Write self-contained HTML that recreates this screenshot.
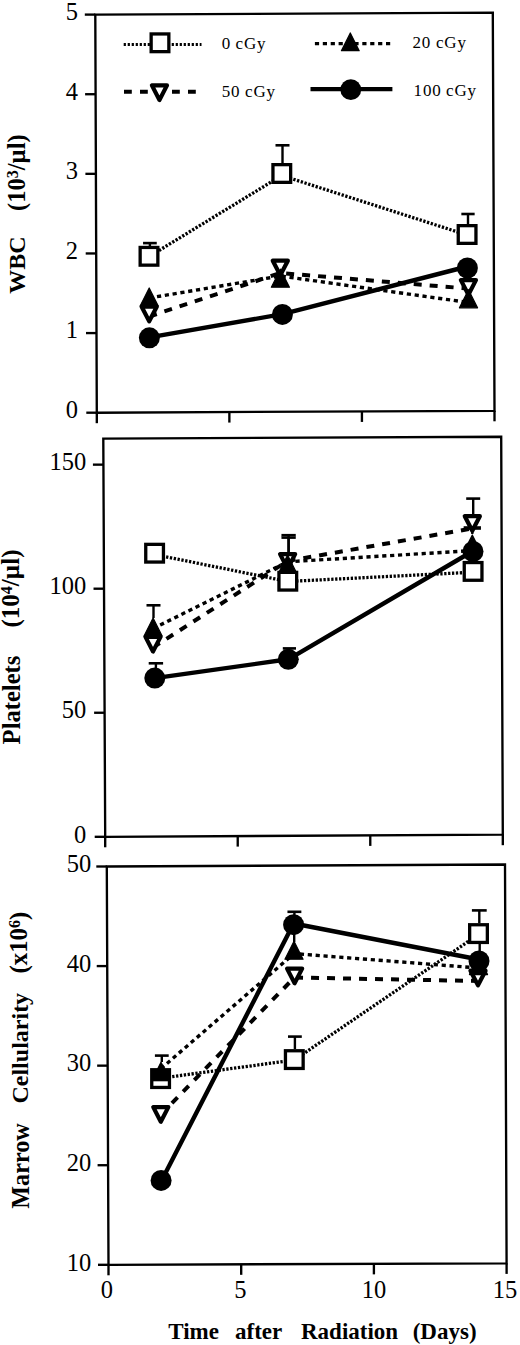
<!DOCTYPE html>
<html><head><meta charset="utf-8"><title>Blood counts after radiation</title>
<style>
html,body{margin:0;padding:0;background:#fff;}
body{width:520px;height:1345px;overflow:hidden;}
svg{display:block;}
text{font-family:"Liberation Serif",serif;fill:#000;}
</style></head>
<body>
<svg width="520" height="1345" viewBox="0 0 520 1345">
<rect width="520" height="1345" fill="#fff"/>
<path d="M95.30,14.60 L492.80,12.70 L494.50,410.80 L96.80,412.70 Z" fill="none" stroke="#000" stroke-width="2.35" stroke-linejoin="miter"/>
<line x1="86.30" y1="412.70" x2="96.80" y2="412.70" stroke="#000" stroke-width="2.35" />
<line x1="86.00" y1="333.08" x2="96.50" y2="333.08" stroke="#000" stroke-width="2.35" />
<line x1="85.70" y1="253.46" x2="96.20" y2="253.46" stroke="#000" stroke-width="2.35" />
<line x1="85.40" y1="173.84" x2="95.90" y2="173.84" stroke="#000" stroke-width="2.35" />
<line x1="85.10" y1="94.22" x2="95.60" y2="94.22" stroke="#000" stroke-width="2.35" />
<line x1="84.80" y1="14.60" x2="95.30" y2="14.60" stroke="#000" stroke-width="2.35" />
<line x1="96.80" y1="412.70" x2="96.80" y2="423.20" stroke="#000" stroke-width="2.35" />
<line x1="229.37" y1="412.07" x2="229.37" y2="422.57" stroke="#000" stroke-width="2.35" />
<line x1="361.93" y1="411.43" x2="361.93" y2="421.93" stroke="#000" stroke-width="2.35" />
<line x1="494.50" y1="410.80" x2="494.50" y2="421.30" stroke="#000" stroke-width="2.35" />
<text x="78.00" y="417.90" font-size="24.5" text-anchor="end" font-weight="normal" >0</text>
<text x="78.00" y="338.30" font-size="24.5" text-anchor="end" font-weight="normal" >1</text>
<text x="78.00" y="258.70" font-size="24.5" text-anchor="end" font-weight="normal" >2</text>
<text x="78.00" y="179.10" font-size="24.5" text-anchor="end" font-weight="normal" >3</text>
<text x="78.00" y="99.50" font-size="24.5" text-anchor="end" font-weight="normal" >4</text>
<text x="78.00" y="19.90" font-size="24.5" text-anchor="end" font-weight="normal" >5</text>
<text transform="translate(25.20,265.20) rotate(-90)" x="0" y="0" font-size="24" text-anchor="middle" font-weight="bold" xml:space="preserve">WBC</text>
<text transform="translate(24.60,172.60) rotate(-90)" x="0" y="0" font-size="24.5" text-anchor="middle" font-weight="bold" xml:space="preserve">(10<tspan font-size="16" dy="-7">3</tspan><tspan dy="7">/µl)</tspan></text>
<polyline points="123.70,44.50 201.50,44.50" fill="none" stroke="#000" stroke-width="3.2" stroke-dasharray="2.2 1.8" stroke-dashoffset="0" stroke-linecap="butt" stroke-linejoin="round"/>
<rect x="151.15" y="33.95" width="17.70" height="17.70" fill="#fff" stroke="#000" stroke-width="3.3"/>
<polyline points="314.30,43.60 390.50,43.60" fill="none" stroke="#000" stroke-width="3.4" stroke-dasharray="4.2 3.7" stroke-dashoffset="-0.6" stroke-linecap="butt" stroke-linejoin="round"/>
<polygon points="350.30,32.90 341.40,50.70 359.20,50.70" fill="#000" stroke="#000" stroke-width="1.2" stroke-linejoin="round"/>
<polyline points="124.00,91.70 196.00,91.70" fill="none" stroke="#000" stroke-width="4" stroke-dasharray="7.8 8.2" stroke-dashoffset="0" stroke-linecap="butt" stroke-linejoin="round"/>
<polygon points="151.90,85.40 167.00,85.40 159.45,100.00" fill="#fff" stroke="#000" stroke-width="4.2" stroke-linejoin="round"/>
<polyline points="310.50,89.20 392.40,89.20" fill="none" stroke="#000" stroke-width="4.3" stroke-linecap="butt" stroke-linejoin="round"/>
<circle cx="350.80" cy="89.70" r="10.4" fill="#000"/>
<text x="221.70" y="49.00" font-size="17" text-anchor="start" font-weight="normal" letter-spacing="0.8">0</text>
<text x="221.70" y="96.50" font-size="17" text-anchor="start" font-weight="normal" letter-spacing="0.8">50</text>
<text x="412.50" y="48.00" font-size="17" text-anchor="start" font-weight="normal" letter-spacing="0.8">20</text>
<text x="413.60" y="96.00" font-size="17" text-anchor="start" font-weight="normal" letter-spacing="0.8">100</text>
<text x="235.50" y="49.00" font-size="17" text-anchor="start" font-weight="normal" letter-spacing="0.9">cGy</text>
<text x="245.00" y="96.50" font-size="17" text-anchor="start" font-weight="normal" letter-spacing="0.9">cGy</text>
<text x="435.90" y="48.00" font-size="17" text-anchor="start" font-weight="normal" letter-spacing="0.9">cGy</text>
<text x="446.00" y="96.00" font-size="17" text-anchor="start" font-weight="normal" letter-spacing="0.9">cGy</text>
<polyline points="149.00,256.60 281.80,175.50 467.10,235.00" fill="none" stroke="#000" stroke-width="3.3" stroke-dasharray="2.3 1.6" stroke-dashoffset="0" stroke-linecap="butt" stroke-linejoin="round"/>
<line x1="149.90" y1="246.00" x2="149.90" y2="243.10" stroke="#000" stroke-width="2.4" />
<line x1="143.05" y1="243.10" x2="156.75" y2="243.10" stroke="#000" stroke-width="2.6" />
<line x1="282.50" y1="163.00" x2="282.50" y2="145.30" stroke="#000" stroke-width="2.4" />
<line x1="275.50" y1="145.30" x2="289.50" y2="145.30" stroke="#000" stroke-width="2.6" />
<line x1="468.00" y1="224.00" x2="468.00" y2="214.00" stroke="#000" stroke-width="2.4" />
<line x1="461.35" y1="214.00" x2="474.65" y2="214.00" stroke="#000" stroke-width="2.6" />
<rect x="140.15" y="247.45" width="17.70" height="17.70" fill="#fff" stroke="#000" stroke-width="3.3"/>
<rect x="272.95" y="164.65" width="17.70" height="17.70" fill="#fff" stroke="#000" stroke-width="3.3"/>
<rect x="458.25" y="225.65" width="17.70" height="17.70" fill="#fff" stroke="#000" stroke-width="3.3"/>
<polyline points="149.20,316.50 280.30,273.00 468.40,288.60" fill="none" stroke="#000" stroke-width="4.0" stroke-dasharray="8 8" stroke-dashoffset="0" stroke-linecap="butt" stroke-linejoin="round"/>
<polygon points="141.65,306.70 156.75,306.70 149.20,321.30" fill="#fff" stroke="#000" stroke-width="4.2" stroke-linejoin="round"/>
<polygon points="272.75,260.70 287.85,260.70 280.30,275.30" fill="#fff" stroke="#000" stroke-width="4.2" stroke-linejoin="round"/>
<polygon points="460.85,280.10 475.95,280.10 468.40,294.70" fill="#fff" stroke="#000" stroke-width="4.2" stroke-linejoin="round"/>
<polyline points="149.20,298.00 280.40,276.00 468.50,302.50" fill="none" stroke="#000" stroke-width="3.4" stroke-dasharray="4.2 3.7" stroke-dashoffset="0" stroke-linecap="butt" stroke-linejoin="round"/>
<polygon points="149.20,287.95 140.15,306.05 158.25,306.05" fill="#000" stroke="#000" stroke-width="1.2" stroke-linejoin="round"/>
<polygon points="280.40,269.15 271.35,287.25 289.45,287.25" fill="#000" stroke="#000" stroke-width="1.2" stroke-linejoin="round"/>
<polygon points="468.50,289.75 459.45,307.85 477.55,307.85" fill="#000" stroke="#000" stroke-width="1.2" stroke-linejoin="round"/>
<polyline points="149.40,337.30 282.40,314.20 467.40,266.50" fill="none" stroke="#000" stroke-width="4.4" stroke-linecap="butt" stroke-linejoin="round"/>
<circle cx="149.40" cy="337.80" r="10.5" fill="#000"/>
<circle cx="282.40" cy="314.40" r="10.5" fill="#000"/>
<circle cx="467.40" cy="268.00" r="10.5" fill="#000"/>
<path d="M103.30,438.60 L501.20,436.80 L502.80,834.70 L105.20,836.80 Z" fill="none" stroke="#000" stroke-width="2.35" stroke-linejoin="miter"/>
<line x1="94.70" y1="836.80" x2="105.20" y2="836.80" stroke="#000" stroke-width="2.35" />
<line x1="94.11" y1="712.75" x2="104.61" y2="712.75" stroke="#000" stroke-width="2.35" />
<line x1="93.52" y1="588.70" x2="104.02" y2="588.70" stroke="#000" stroke-width="2.35" />
<line x1="92.92" y1="464.65" x2="103.42" y2="464.65" stroke="#000" stroke-width="2.35" />
<line x1="105.20" y1="836.80" x2="105.20" y2="847.30" stroke="#000" stroke-width="2.35" />
<line x1="237.73" y1="836.10" x2="237.73" y2="846.60" stroke="#000" stroke-width="2.35" />
<line x1="370.27" y1="835.40" x2="370.27" y2="845.90" stroke="#000" stroke-width="2.35" />
<line x1="502.80" y1="834.70" x2="502.80" y2="845.20" stroke="#000" stroke-width="2.35" />
<text x="86.30" y="842.50" font-size="24.5" text-anchor="end" font-weight="normal" >0</text>
<text x="86.30" y="718.30" font-size="24.5" text-anchor="end" font-weight="normal" >50</text>
<text x="86.30" y="594.10" font-size="24.5" text-anchor="end" font-weight="normal" >100</text>
<text x="86.30" y="469.90" font-size="24.5" text-anchor="end" font-weight="normal" >150</text>
<text transform="translate(19.60,700.00) rotate(-90)" x="0" y="0" font-size="24.6" text-anchor="middle" font-weight="bold" xml:space="preserve">Platelets</text>
<text transform="translate(18.80,588.50) rotate(-90)" x="0" y="0" font-size="25" text-anchor="middle" font-weight="bold" xml:space="preserve">(10<tspan font-size="16" dy="-7">4</tspan><tspan dy="7">/µl)</tspan></text>
<polyline points="154.60,554.50 287.80,581.50 473.10,572.20" fill="none" stroke="#000" stroke-width="3.3" stroke-dasharray="2.3 1.6" stroke-dashoffset="0" stroke-linecap="butt" stroke-linejoin="round"/>
<rect x="145.75" y="544.35" width="17.70" height="17.70" fill="#fff" stroke="#000" stroke-width="3.3"/>
<rect x="278.95" y="572.35" width="17.70" height="17.70" fill="#fff" stroke="#000" stroke-width="3.3"/>
<rect x="464.25" y="562.55" width="17.70" height="17.70" fill="#fff" stroke="#000" stroke-width="3.3"/>
<polyline points="153.00,647.50 287.60,561.00 472.30,528.40" fill="none" stroke="#000" stroke-width="4.0" stroke-dasharray="8 8" stroke-dashoffset="0" stroke-linecap="butt" stroke-linejoin="round"/>
<line x1="473.20" y1="514.00" x2="473.20" y2="498.60" stroke="#000" stroke-width="2.4" />
<line x1="466.20" y1="498.60" x2="480.20" y2="498.60" stroke="#000" stroke-width="2.6" />
<polygon points="145.45,636.90 160.55,636.90 153.00,651.50" fill="#fff" stroke="#000" stroke-width="4.2" stroke-linejoin="round"/>
<polygon points="280.05,554.10 295.15,554.10 287.60,568.70" fill="#fff" stroke="#000" stroke-width="4.2" stroke-linejoin="round"/>
<polygon points="464.75,516.20 479.85,516.20 472.30,530.80" fill="#fff" stroke="#000" stroke-width="4.2" stroke-linejoin="round"/>
<polyline points="153.10,628.50 287.60,561.80 472.50,550.60" fill="none" stroke="#000" stroke-width="3.4" stroke-dasharray="4.2 3.7" stroke-dashoffset="0" stroke-linecap="butt" stroke-linejoin="round"/>
<line x1="153.50" y1="618.00" x2="153.50" y2="605.30" stroke="#000" stroke-width="2.4" />
<line x1="146.50" y1="605.30" x2="160.50" y2="605.30" stroke="#000" stroke-width="2.6" />
<line x1="288.60" y1="555.00" x2="288.60" y2="535.20" stroke="#000" stroke-width="2.4" />
<line x1="281.45" y1="535.20" x2="295.75" y2="535.20" stroke="#000" stroke-width="2.6" />
<line x1="288.60" y1="555.00" x2="288.60" y2="537.60" stroke="#000" stroke-width="2.4" />
<line x1="281.45" y1="537.60" x2="295.75" y2="537.60" stroke="#000" stroke-width="2.6" />
<line x1="472.30" y1="534.00" x2="472.30" y2="528.00" stroke="#000" stroke-width="2.4" />
<line x1="463.65" y1="528.00" x2="480.95" y2="528.00" stroke="#000" stroke-width="3.6" />
<polygon points="153.10,617.95 144.05,636.05 162.15,636.05" fill="#000" stroke="#000" stroke-width="1.2" stroke-linejoin="round"/>
<polygon points="287.60,554.95 278.55,573.05 296.65,573.05" fill="#000" stroke="#000" stroke-width="1.2" stroke-linejoin="round"/>
<polygon points="472.30,534.95 463.25,553.05 481.35,553.05" fill="#000" stroke="#000" stroke-width="1.2" stroke-linejoin="round"/>
<polyline points="154.80,678.10 288.30,659.30 473.00,551.00" fill="none" stroke="#000" stroke-width="4.4" stroke-linecap="butt" stroke-linejoin="round"/>
<line x1="155.90" y1="668.00" x2="155.90" y2="663.30" stroke="#000" stroke-width="2.4" />
<line x1="148.70" y1="663.30" x2="163.10" y2="663.30" stroke="#000" stroke-width="2.6" />
<line x1="289.40" y1="649.00" x2="289.40" y2="648.40" stroke="#000" stroke-width="2.4" />
<line x1="282.80" y1="648.40" x2="296.00" y2="648.40" stroke="#000" stroke-width="2.6" />
<circle cx="154.80" cy="678.10" r="10.5" fill="#000"/>
<circle cx="288.30" cy="659.30" r="10.5" fill="#000"/>
<circle cx="473.00" cy="551.50" r="10.5" fill="#000"/>
<path d="M106.80,866.50 L505.00,864.50 L506.60,1263.40 L108.50,1264.80 Z" fill="none" stroke="#000" stroke-width="2.35" stroke-linejoin="miter"/>
<line x1="98.00" y1="1264.80" x2="108.50" y2="1264.80" stroke="#000" stroke-width="2.35" />
<line x1="97.58" y1="1165.22" x2="108.08" y2="1165.22" stroke="#000" stroke-width="2.35" />
<line x1="97.15" y1="1065.65" x2="107.65" y2="1065.65" stroke="#000" stroke-width="2.35" />
<line x1="96.72" y1="966.08" x2="107.22" y2="966.08" stroke="#000" stroke-width="2.35" />
<line x1="96.30" y1="866.50" x2="106.80" y2="866.50" stroke="#000" stroke-width="2.35" />
<line x1="108.50" y1="1264.80" x2="108.50" y2="1275.30" stroke="#000" stroke-width="2.35" />
<line x1="241.20" y1="1264.33" x2="241.20" y2="1274.83" stroke="#000" stroke-width="2.35" />
<line x1="373.90" y1="1263.87" x2="373.90" y2="1274.37" stroke="#000" stroke-width="2.35" />
<line x1="506.60" y1="1263.40" x2="506.60" y2="1273.90" stroke="#000" stroke-width="2.35" />
<text x="91.30" y="1270.60" font-size="24.5" text-anchor="end" font-weight="normal" >10</text>
<text x="91.30" y="1171.00" font-size="24.5" text-anchor="end" font-weight="normal" >20</text>
<text x="91.30" y="1071.40" font-size="24.5" text-anchor="end" font-weight="normal" >30</text>
<text x="91.30" y="971.80" font-size="24.5" text-anchor="end" font-weight="normal" >40</text>
<text x="91.30" y="872.20" font-size="24.5" text-anchor="end" font-weight="normal" >50</text>
<text x="106.80" y="1297.80" font-size="24.5" text-anchor="middle" font-weight="normal" >0</text>
<text x="240.30" y="1297.80" font-size="24.5" text-anchor="middle" font-weight="normal" >5</text>
<text x="374.00" y="1297.80" font-size="24.5" text-anchor="middle" font-weight="normal" >10</text>
<text x="505.00" y="1297.80" font-size="24.5" text-anchor="middle" font-weight="normal" >15</text>
<text transform="translate(28.70,1166.00) rotate(-90)" x="0" y="0" font-size="24.2" text-anchor="middle" font-weight="bold" xml:space="preserve">Marrow</text>
<text transform="translate(27.90,1048.20) rotate(-90)" x="0" y="0" font-size="24" text-anchor="middle" font-weight="bold" xml:space="preserve">Cellularity</text>
<text transform="translate(26.60,942.60) rotate(-90)" x="0" y="0" font-size="24.8" text-anchor="middle" font-weight="bold" xml:space="preserve">(x10<tspan font-size="16" dy="-7">6</tspan><tspan dy="7">)</tspan></text>
<text x="168.30" y="1338.80" font-size="23" text-anchor="start" font-weight="bold" >Time</text>
<text x="235.00" y="1338.80" font-size="23" text-anchor="start" font-weight="bold" >after</text>
<text x="301.00" y="1338.80" font-size="23" text-anchor="start" font-weight="bold" >Radiation</text>
<text x="412.70" y="1338.80" font-size="23" text-anchor="start" font-weight="bold" >(Days)</text>
<polyline points="160.60,1078.20 294.30,1060.00 478.50,934.50" fill="none" stroke="#000" stroke-width="3.3" stroke-dasharray="2.3 1.6" stroke-dashoffset="0" stroke-linecap="butt" stroke-linejoin="round"/>
<line x1="294.90" y1="1049.00" x2="294.90" y2="1036.60" stroke="#000" stroke-width="2.4" />
<line x1="288.00" y1="1036.60" x2="301.80" y2="1036.60" stroke="#000" stroke-width="2.6" />
<line x1="479.30" y1="923.00" x2="479.30" y2="910.40" stroke="#000" stroke-width="2.4" />
<line x1="471.90" y1="910.40" x2="486.70" y2="910.40" stroke="#000" stroke-width="2.6" />
<line x1="479.70" y1="944.00" x2="479.70" y2="951.00" stroke="#000" stroke-width="2.4" />
<line x1="479.65" y1="951.00" x2="479.75" y2="951.00" stroke="#000" stroke-width="2.6" />
<rect x="151.75" y="1069.75" width="17.70" height="17.70" fill="#fff" stroke="#000" stroke-width="3.3"/>
<rect x="285.45" y="1050.75" width="17.70" height="17.70" fill="#fff" stroke="#000" stroke-width="3.3"/>
<rect x="469.65" y="924.75" width="17.70" height="17.70" fill="#fff" stroke="#000" stroke-width="3.3"/>
<polyline points="160.80,1114.50 294.40,977.50 478.00,981.00" fill="none" stroke="#000" stroke-width="4.0" stroke-dasharray="8 8" stroke-dashoffset="0" stroke-linecap="butt" stroke-linejoin="round"/>
<polygon points="153.25,1107.10 168.35,1107.10 160.80,1121.70" fill="#fff" stroke="#000" stroke-width="4.2" stroke-linejoin="round"/>
<polygon points="287.05,968.60 302.15,968.60 294.60,983.20" fill="#fff" stroke="#000" stroke-width="4.2" stroke-linejoin="round"/>
<polygon points="470.45,970.70 485.55,970.70 478.00,985.30" fill="#fff" stroke="#000" stroke-width="4.2" stroke-linejoin="round"/>
<polyline points="161.00,1068.60 294.00,953.60 478.50,968.00" fill="none" stroke="#000" stroke-width="3.4" stroke-dasharray="4.2 3.7" stroke-dashoffset="0" stroke-linecap="butt" stroke-linejoin="round"/>
<line x1="161.80" y1="1062.00" x2="161.80" y2="1055.60" stroke="#000" stroke-width="2.4" />
<line x1="154.90" y1="1055.60" x2="168.70" y2="1055.60" stroke="#000" stroke-width="2.6" />
<line x1="294.20" y1="942.00" x2="294.20" y2="930.00" stroke="#000" stroke-width="2.4" />
<line x1="294.15" y1="930.00" x2="294.25" y2="930.00" stroke="#000" stroke-width="2.6" />
<polygon points="161.00,1062.25 151.95,1080.35 170.05,1080.35" fill="#000" stroke="#000" stroke-width="1.2" stroke-linejoin="round"/>
<polygon points="294.00,941.15 284.95,959.25 303.05,959.25" fill="#000" stroke="#000" stroke-width="1.2" stroke-linejoin="round"/>
<polygon points="478.50,956.45 469.45,974.55 487.55,974.55" fill="#000" stroke="#000" stroke-width="1.2" stroke-linejoin="round"/>
<polyline points="161.10,1181.50 293.60,923.50 479.00,959.50" fill="none" stroke="#000" stroke-width="4.4" stroke-linecap="butt" stroke-linejoin="round"/>
<line x1="294.40" y1="915.00" x2="294.40" y2="911.80" stroke="#000" stroke-width="2.4" />
<line x1="287.45" y1="911.80" x2="301.35" y2="911.80" stroke="#000" stroke-width="2.6" />
<circle cx="161.10" cy="1180.40" r="10.5" fill="#000"/>
<circle cx="293.60" cy="924.70" r="10.5" fill="#000"/>
<circle cx="479.00" cy="961.00" r="10.5" fill="#000"/>
<rect x="152.8" y="1071" width="16" height="10.3" fill="#000"/>
</svg>
</body></html>
